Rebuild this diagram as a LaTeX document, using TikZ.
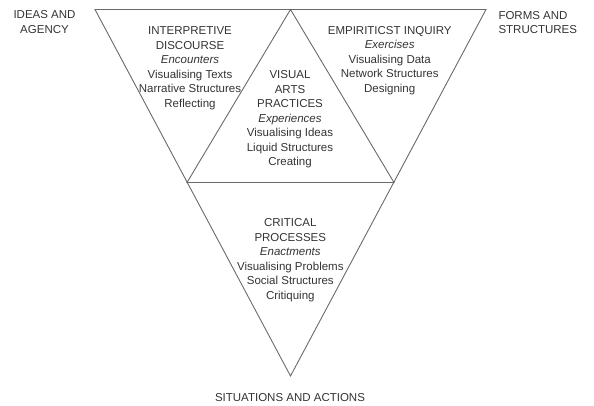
\documentclass[tikz,border=0pt]{standalone}
\usepackage{fontspec}
\setmainfont{Liberation Sans}
\definecolor{inkgray}{HTML}{333333}
\definecolor{edgegray}{HTML}{6A6A6A}
\begin{document}
\begin{tikzpicture}[x=1pt,y=-1pt,
  block/.style={align=center,text=inkgray,inner sep=0pt,
    font=\fontsize{11.5pt}{14.5pt}\selectfont},
  edge/.style={draw=edgegray,line width=0.9pt,line join=miter}]
  \useasboundingbox (0,0) rectangle (594,406);
  % outer inverted triangle and the inner upright one
  \coordinate (tl) at (95,9.5);
  \coordinate (tr) at (486,9.5);
  \coordinate (bot) at (290.5,376);
  \coordinate (apex) at (290.5,9.5);
  \coordinate (bl) at (187,182.5);
  \coordinate (br) at (394,182.5);
  \draw[edge] (tl) -- (tr) -- (bot) -- cycle;
  \draw[edge] (bl) -- (apex) -- (br) -- cycle;
  % corner labels
  \node[block] (ideas) at (44.5,22) {IDEAS AND\\AGENCY};
  \node[block,align=left,anchor=west] (forms) at (498.3,22.5) {FORMS AND\\STRUCTURES};
  \node[block] (situations) at (290,397.2) {SITUATIONS AND ACTIONS};
  % the four fields
  \node[block] (interp) at (190,68) {INTERPRETIVE\\DISCOURSE\\\textit{Encounters}\\Visualising Texts\\Narrative Structures\\Reflecting};
  \node[block] (empir) at (389.7,60.5) {EMPIRITICST INQUIRY\\\textit{Exercises}\\Visualising Data\\Network Structures\\Designing};
  \node[block] (visual) at (290,119.4) {VISUAL\\ARTS\\PRACTICES\\\textit{Experiences}\\Visualising Ideas\\Liquid Structures\\Creating};
  \node[block] (critical) at (290.3,260.2) {CRITICAL\\PROCESSES\\\textit{Enactments}\\Visualising Problems\\Social Structures\\Critiquing};
\end{tikzpicture}
\end{document}
